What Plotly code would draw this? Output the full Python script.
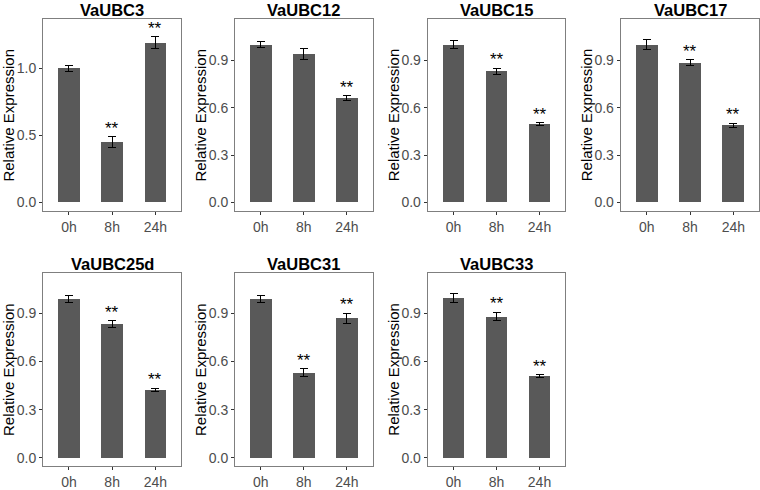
import plotly.graph_objects as go

genes = ["VaUBC3", "VaUBC12", "VaUBC15", "VaUBC17", "VaUBC25d", "VaUBC31", "VaUBC33"]
times = ["0h", "8h", "24h"]
means = [
    [1.00, 0.45, 1.19],
    [1.00, 0.94, 0.66],
    [1.00, 0.83, 0.495],
    [1.00, 0.885, 0.49],
    [0.99, 0.835, 0.425],
    [0.99, 0.53, 0.87],
    [0.995, 0.88, 0.51],
]
errors = [
    [0.02, 0.04, 0.045],
    [0.02, 0.035, 0.017],
    [0.025, 0.02, 0.01],
    [0.03, 0.02, 0.013],
    [0.02, 0.02, 0.01],
    [0.02, 0.025, 0.03],
    [0.03, 0.027, 0.008],
]
signif = [
    ["", "**", "**"],
    ["", "", "**"],
    ["", "**", "**"],
    ["", "**", "**"],
    ["", "**", "**"],
    ["", "**", "**"],
    ["", "**", "**"],
]
yticks = [
    [0.0, 0.5, 1.0],
    [0.0, 0.3, 0.6, 0.9],
    [0.0, 0.3, 0.6, 0.9],
    [0.0, 0.3, 0.6, 0.9],
    [0.0, 0.3, 0.6, 0.9],
    [0.0, 0.3, 0.6, 0.9],
    [0.0, 0.3, 0.6, 0.9],
]
yranges = [
    [-0.067, 1.37],
    [-0.057, 1.164],
    [-0.057, 1.164],
    [-0.057, 1.164],
    [-0.051, 1.153],
    [-0.051, 1.153],
    [-0.051, 1.153],
]

W, H = 760, 490
# panel boxes in pixels (left, right, top, bottom)
col_x = [(43, 181.3), (235, 372.7), (427.7, 565.3), (620.7, 759.3)]
row_y = [(19, 213), (275, 470)]

FONT = "Liberation Sans, Arial, sans-serif"
fig = go.Figure()
annotations = []
layout = {}

for i, g in enumerate(genes):
    r, c = divmod(i, 4)
    x0, x1 = col_x[c]
    t, b = row_y[r]
    n = "" if i == 0 else str(i + 1)
    xa, ya = "x" + n, "y" + n
    fig.add_trace(go.Bar(
        x=[1, 2, 3], y=means[i], width=0.5,
        marker=dict(color="#595959", line=dict(width=0)),
        error_y=dict(type="data", array=errors[i], color="#000000", thickness=1, width=4),
        xaxis=xa, yaxis=ya, showlegend=False, hoverinfo="skip",
    ))
    layout["xaxis" + n] = dict(
        domain=[x0 / W, x1 / W], anchor=ya, range=[0.4, 3.6],
        tickvals=[1, 2, 3], ticktext=times, ticks="outside", ticklen=3,
        tickcolor="#333333", showline=True, linecolor="#7f7f7f", linewidth=1,
        mirror=True, showgrid=False, zeroline=False, fixedrange=True,
        tickfont=dict(family=FONT, size=14, color="#4d4d4d"),
    )
    layout["yaxis" + n] = dict(
        domain=[1 - b / H, 1 - t / H], anchor=xa, range=yranges[i],
        tickvals=yticks[i], ticktext=["%.1f" % v for v in yticks[i]],
        ticks="outside", ticklen=3, tickcolor="#333333",
        showline=True, linecolor="#7f7f7f", linewidth=1, mirror=True,
        showgrid=False, zeroline=False, fixedrange=True,
        tickfont=dict(family=FONT, size=14, color="#4d4d4d"),
    )
    # title
    annotations.append(dict(
        text="<b>%s</b>" % g, x=(x0 + x1) / 2 / W, y=1 - (t - 9) / H,
        xref="paper", yref="paper", showarrow=False, xanchor="center", yanchor="middle",
        font=dict(family=FONT, size=16.5, color="#000000"),
    ))
    # y axis title
    annotations.append(dict(
        text="Relative Expression", x=(x0 - 34.5) / W, y=1 - ((t + b) / 2) / H,
        xref="paper", yref="paper", showarrow=False, textangle=-90,
        xanchor="center", yanchor="middle",
        font=dict(family=FONT, size=15, color="#000000"),
    ))
    # significance marks
    for k in range(3):
        if signif[i][k]:
            annotations.append(dict(
                text=signif[i][k], x=k + 1, y=means[i][k] + errors[i][k],
                xref=xa, yref=ya, showarrow=False, xanchor="center", yanchor="bottom",
                yshift=-3, font=dict(family=FONT, size=17, color="#000000"),
            ))

fig.update_layout(
    width=W, height=H, margin=dict(l=0, r=0, t=0, b=0),
    paper_bgcolor="white", plot_bgcolor="white",
    annotations=annotations, bargap=0, **layout,
)
fig.write_html(
    "out.html",
    config={"displayModeBar": False, "staticPlot": True},
    post_script="document.body.style.margin='0px';document.body.style.overflow='hidden';",
)
